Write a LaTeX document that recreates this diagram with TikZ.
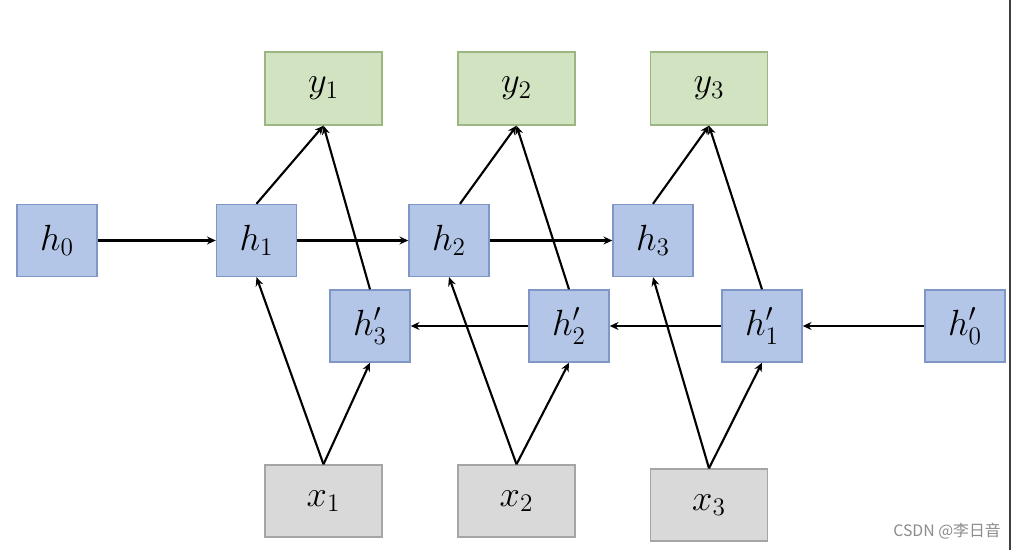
\documentclass[tikz,border=0pt]{standalone}
\usepackage{fontspec}
\newfontfamily\cjk{Noto Sans CJK SC}
\usetikzlibrary{arrows.meta,calc}
\definecolor{hfill}{HTML}{B4C6E7}
\definecolor{hdraw}{HTML}{7F96C7}
\definecolor{yfill}{HTML}{D2E3C1}
\definecolor{ydraw}{HTML}{9CB682}
\definecolor{xfill}{HTML}{D9D9D9}
\definecolor{xdraw}{HTML}{A5A5A5}
\tikzset{
  base/.style={inner sep=0pt, line width=0.8pt, font=\fontsize{20}{24}\selectfont},
  hbox/.style={base, fill=hfill, draw=hdraw, minimum width=1.6cm, minimum height=1.44cm},
  ybox/.style={base, fill=yfill, draw=ydraw, minimum width=2.34cm, minimum height=1.46cm},
  xbox/.style={base, fill=xfill, draw=xdraw, minimum width=2.34cm, minimum height=1.44cm},
  conn/.style={line width=1.2pt, -{Stealth[length=5pt,width=4.5pt]}},
}
\begin{document}
\begin{tikzpicture}[x=0.02cm,y=-0.02cm]
\useasboundingbox (0,0) rectangle (1012,550);
\fill[white] (0,0) rectangle (1012,550);
\draw[line width=1.2pt, black!75] (1010,0) -- (1010,550);
% outputs
\node[ybox] (y1) at (323.5,88.5) {$y_1$};
\node[ybox] (y2) at (516.5,88.5) {$y_2$};
\node[ybox] (y3) at (709,88.5) {$y_3$};
% forward states
\node[hbox] (h0) at (57,240.5) {$h_0$};
\node[hbox] (h1) at (256.5,240.5) {$h_1$};
\node[hbox] (h2) at (449,240.5) {$h_2$};
\node[hbox] (h3) at (653,240.5) {$h_3$};
% backward states
\node[hbox] (g3) at (370,326) {$h'_3$};
\node[hbox] (g2) at (569,326) {$h'_2$};
\node[hbox] (g1) at (762,326) {$h'_1$};
\node[hbox] (g0) at (965,326) {$h'_0$};
% inputs
\node[xbox] (x1) at (323.5,501) {$x_1$};
\node[xbox] (x2) at (516.5,501) {$x_2$};
\node[xbox] (x3) at (709,505) {$x_3$};
% horizontal connectors
\draw[conn] (h0) -- (h1);
\draw[conn] (h1) -- (h2);
\draw[conn] (h2) -- (h3);
\draw[conn] (g0) -- (g1);
\draw[conn] (g1) -- (g2);
\draw[conn] (g2) -- (g3);
% to outputs
\draw[conn] (h1.north) -- (y1.south);
\draw[conn] (g3.north) -- (y1.south);
\draw[conn] ($(h2.north)+(11,0)$) -- (y2.south);
\draw[conn] (g2.north) -- (y2.south);
\draw[conn] (h3.north) -- (y3.south);
\draw[conn] (g1.north) -- (y3.south);
% from inputs
\draw[conn] (x1.north) -- (h1.south);
\draw[conn] (x1.north) -- (g3.south);
\draw[conn] (x2.north) -- (h2.south);
\draw[conn] (x2.north) -- (g2.south);
\draw[conn] (x3.north) -- (h3.south);
\draw[conn] (x3.north) -- (g1.south);
% watermark
\node[text=black!45, font=\cjk\fontsize{9}{10}\selectfont, inner sep=0pt] (wm) at (947,531) {CSDN @李日音};
\end{tikzpicture}
\end{document}
